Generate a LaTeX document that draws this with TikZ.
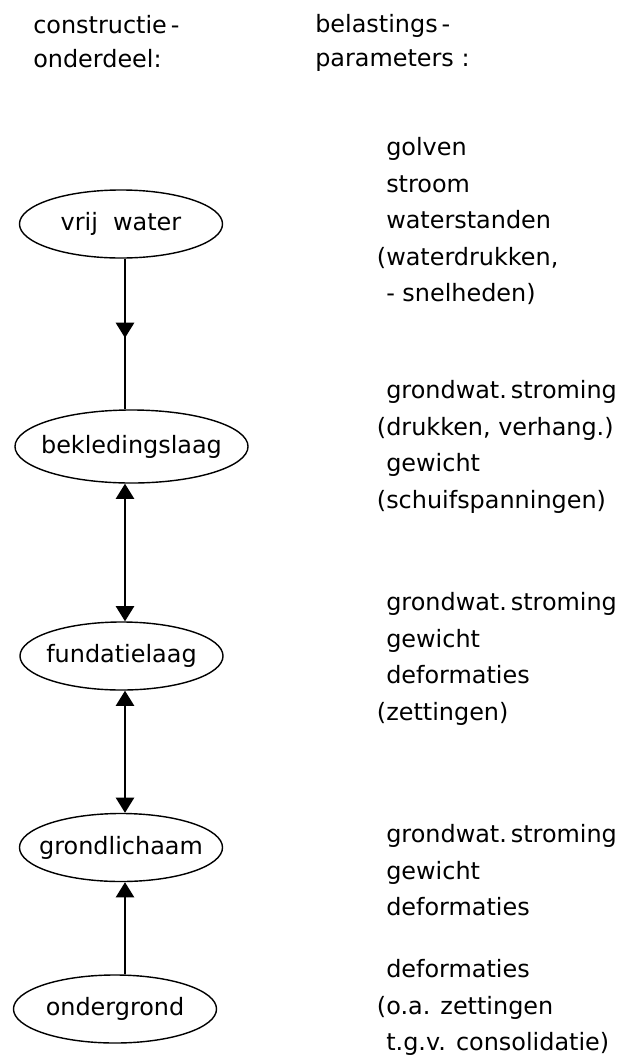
\documentclass[tikz,border=0pt]{standalone}
\usepackage{fontspec}
\setmainfont{DejaVu Sans}
\usetikzlibrary{arrows.meta,shapes.geometric,decorations.markings}

\begin{document}
\begin{tikzpicture}[x=0.025cm, y=-0.025cm,
    font=\fontsize{17}{26}\selectfont,
    deel/.style={ellipse, draw, line width=1pt, inner xsep=-8pt, inner ysep=0pt,
      minimum width=5.075cm, minimum height=1.7cm},
    tekst/.style={anchor=north west, align=left, inner sep=0pt},
    kopje/.style={tekst, font=\fontsize{17}{24}\selectfont},
    pijl/.style={line width=1pt},
    punt/.tip={Triangle[length=3.8mm, width=4.6mm]},
    midpijl/.style={decoration={markings,
      mark=at position #1 with {\arrow{punt}}}, postaction=decorate}]
  \useasboundingbox (0,0) rectangle (636,1061);

  % kopjes
  \node[kopje] (kl) at (33,15) {constructie\,-\\onderdeel:};
  \node[kopje] (kr) at (315,14) {belastings\,-\\parameters :};

  % onderdelen
  \node[deel] (vw) at (121,224) {vrij\ \ water};
  \node[deel, minimum width=5.825cm, minimum height=1.825cm] (bk) at (131.5,446.5) {bekledingslaag};
  \node[deel] (fu) at (121.5,656) {fundatielaag};
  \node[deel] (gr) at (121,847.5) {grondlichaam};
  \node[deel] (og) at (115,1009) {ondergrond};

  % pijlen
  \coordinate (lijn) at (125,0);
  \draw[pijl, midpijl=0.526] (vw.south -| lijn) -- (bk.north -| lijn);
  \draw[pijl, punt-punt] (bk.south -| lijn) -- (fu.north -| lijn);
  \draw[pijl, punt-punt] (fu.south -| lijn) -- (gr.north -| lijn);
  \draw[pijl, -punt] (og.north -| lijn) -- (gr.south -| lijn);

  % parameters
  \node[tekst] (p1) at (386,137) {golven\\stroom\\waterstanden\\\llap{(}waterdrukken,\\- snelheden)};
  \node[tekst] (p2) at (386,380) {grondwat.\,stroming\\\llap{(}drukken, verhang.)\\gewicht\\\llap{(}schuifspanningen)};
  \node[tekst] (p3) at (386,592) {grondwat.\,stroming\\gewicht\\deformaties\\\llap{(}zettingen)};
  \node[tekst] (p4) at (386,824) {grondwat.\,stroming\\gewicht\\deformaties};
  \node[tekst] (p5) at (386,959) {deformaties\\\llap{(}o.a. zettingen\\t.g.v. consolidatie)};
\end{tikzpicture}
\end{document}
